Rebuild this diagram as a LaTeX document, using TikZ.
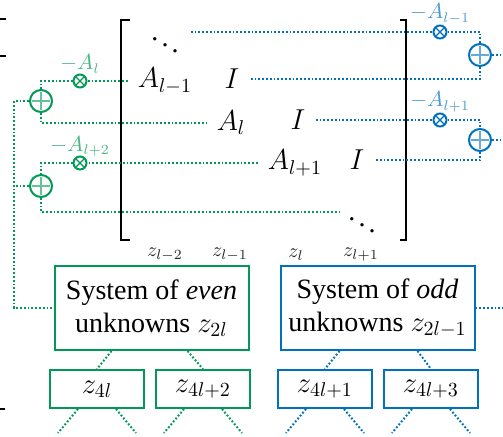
\documentclass[tikz,border=0pt]{standalone}
\usepackage[no-math]{fontspec}
\setmainfont{Liberation Serif}
\usepackage{xcolor}
\usepackage{tikz}
\usetikzlibrary{calc}
\definecolor{evengreen}{RGB}{0,153,85}
\definecolor{oddblue}{RGB}{0,114,189}
\tikzset{
  ent/.style   ={font=\fontsize{14}{17}\selectfont, inner sep=5pt},
  lbl/.style   ={font=\fontsize{10.5}{12}\selectfont, inner sep=0pt},
  zlbl/.style  ={font=\fontsize{10}{12}\selectfont, text=black!85, inner sep=0pt},
  mul/.style   ={draw=#1, circle, line width=1pt, minimum size=6.5pt, inner sep=0pt,
                 path picture={\draw[#1, line width=0.6pt]
                   (path picture bounding box.north west) -- (path picture bounding box.south east)
                   (path picture bounding box.north east) -- (path picture bounding box.south west);}},
  add/.style   ={draw=#1, circle, line width=1pt, minimum size=11pt, inner sep=0pt,
                 path picture={\draw[#1!60, line width=0.6pt]
                   ([yshift=-1pt]path picture bounding box.north) -- ([yshift=1pt]path picture bounding box.south)
                   ([xshift=1pt]path picture bounding box.west) -- ([xshift=-1pt]path picture bounding box.east);}},
  gdot/.style  ={evengreen, line width=1pt, dash pattern=on 0.9pt off 1pt},
  bdot/.style  ={oddblue, line width=1pt, dash pattern=on 0.9pt off 1pt},
  sys/.style   ={draw=#1, line width=1pt, minimum width=97pt, minimum height=42pt, align=center,
                 font=\fontsize{14}{16.5}\selectfont},
  subsys/.style={draw=#1, line width=1pt, minimum width=47pt, minimum height=19pt,
                 font=\fontsize{14}{17}\selectfont},
}

\begin{document}
\begin{tikzpicture}[x=0.5pt,y=-0.5pt]
    \useasboundingbox (0,0) rectangle (503,437);
    % cut-off pieces at the left edge
    \draw[line width=1pt] (0,19) -- (6,19) (0,56) -- (6,56) (0,409) -- (5,409);
    % brackets of the matrix
    \draw[line width=1pt] (130,20) -- (121,20) -- (121,240) -- (130,240);
    \draw[line width=1pt] (400,20) -- (406,20) -- (406,240) -- (400,240);

    % entries
    \node[ent] (dtop) at (165,39)  {$\ddots$};
    \node[ent] (am1)  at (165,81)  {$A_{l-1}$};
    \node[ent] (i1)   at (232,79)  {$I$};
    \node[ent] (al)   at (231,123) {$A_{l}$};
    \node[ent] (i2)   at (298,120) {$I$};
    \node[ent] (ap1)  at (295,163) {$A_{l+1}$};
    \node[ent] (i3)   at (357,160) {$I$};
    \node[ent] (dbot) at (362,219) {$\ddots$};

    % even side
    \node[mul=evengreen] (mx1) at (80,81)  {};
    \node[mul=evengreen] (mx2) at (80,163) {};
    \node[add=evengreen] (pe1) at (41,101) {};
    \node[add=evengreen] (pe2) at (41,186) {};
    \node[lbl, text=evengreen!70] (lmx1) at (80,64)  {$-A_l$};
    \node[lbl, text=evengreen!70] (lmx2) at (80,146) {$-A_{l+2}$};

    % odd side
    \node[mul=oddblue] (mxa) at (440,32)  {};
    \node[mul=oddblue] (mxb) at (440,120) {};
    \node[add=oddblue] (pb1) at (480,55)  {};
    \node[add=oddblue] (pb2) at (480,140) {};
    \node[lbl, text=oddblue!70] (lmxa) at (440,14)  {$-A_{l-1}$};
    \node[lbl, text=oddblue!70] (lmxb) at (440,102) {$-A_{l+1}$};

    % systems
    \node[sys=evengreen] (even) at (151.5,308) {System of \emph{even}\\unknowns $z_{2l}$};
    \node[sys=oddblue]   (odd)  at (377.5,308) {System of \emph{odd}\\unknowns $z_{2l-1}$};
    \node[zlbl] (zlm2) at (165,255) {$z_{l-2}$};
    \node[zlbl] (zlm1) at (230,255) {$z_{l-1}$};
    \node[zlbl] (zl)   at (296,255) {$z_{l}$};
    \node[zlbl] (zlp1) at (361,255) {$z_{l+1}$};

    \node[subsys=evengreen] (s4l)  at (97,389)  {$z_{4l}$};
    \node[subsys=evengreen] (s4l2) at (203,389) {$z_{4l+2}$};
    \node[subsys=oddblue]   (s4l1) at (325,389) {$z_{4l+1}$};
    \node[subsys=oddblue]   (s4l3) at (431,389) {$z_{4l+3}$};

    \coordinate (gend)    at (340,212);
    \coordinate (gcorner) at (14,308);
    \coordinate (bedge)   at (503,0);

    % green connectors
    \draw[gdot] (am1) -- (mx1) -| (pe1) |- (al);
    \draw[gdot] (ap1) -- (mx2) -| (pe2) |- (gend);
    \draw[gdot] (pe1) -| (gcorner) -- (even);
    \draw[gdot] (pe2) -- (pe2 -| gcorner);

    % blue connectors
    \draw[bdot] (dtop.east |- mxa) -- (mxa) -| (pb1) |- (i1);
    \draw[bdot] (i2) -- (mxb) -| (pb2) |- (i3);
    \draw[bdot] (pb1) -- (pb1 -| bedge);
    \draw[bdot] (pb2) -- (pb2 -| bedge);
    \draw[bdot] (odd) -- (odd -| bedge);

    % tree below
    \draw[gdot] ([xshift=-20pt]even.south) -- (s4l.north);
    \draw[gdot] ([xshift=18pt]even.south) -- (s4l2.north);
    \draw[bdot] ([xshift=-19pt]odd.south) -- (s4l1.north);
    \draw[bdot] ([xshift=20pt]odd.south) -- (s4l3.north);
    \foreach \b in {s4l,s4l2} {
      \draw[gdot] ([xshift=-9.5pt]\b.south) -- ++(-20,24);
      \draw[gdot] ([xshift=9.5pt]\b.south) -- ++(20,24);
    }
    \foreach \b in {s4l1,s4l3} {
      \draw[bdot] ([xshift=-9.5pt]\b.south) -- ++(-20,24);
      \draw[bdot] ([xshift=9.5pt]\b.south) -- ++(20,24);
    }
  \end{tikzpicture}
\end{document}
